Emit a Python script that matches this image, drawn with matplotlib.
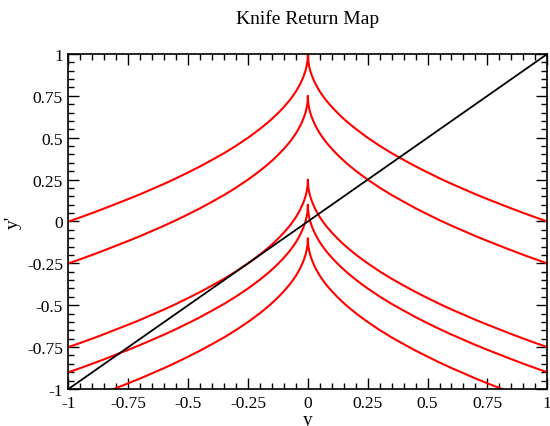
import numpy as np
import matplotlib
matplotlib.use("Agg")
import matplotlib.pyplot as plt
from matplotlib.ticker import MultipleLocator, FixedLocator

plt.rcParams["font.family"] = ["Liberation Serif", "DejaVu Serif"]
plt.rcParams["axes.unicode_minus"] = False

# |y| sample positions (dense near the cusp) and the drop below each branch's peak
abs_y = [0.0, 0.001, 0.002, 0.004, 0.006, 0.01, 0.015, 0.02, 0.03, 0.04, 0.05, 0.06,
         0.07, 0.08, 0.1, 0.12, 0.14, 0.16, 0.18, 0.2, 0.225, 0.25, 0.275, 0.3, 0.35,
         0.4, 0.45, 0.5, 0.55, 0.6, 0.65, 0.7, 0.75, 0.8, 0.85, 0.9, 0.95, 1.0]
drop = [0.0, 0.032, 0.045, 0.063, 0.077, 0.1, 0.122, 0.141, 0.173, 0.2, 0.224, 0.245,
        0.265, 0.283, 0.316, 0.346, 0.374, 0.4, 0.424, 0.447, 0.474, 0.5, 0.524, 0.548,
        0.592, 0.632, 0.671, 0.707, 0.742, 0.775, 0.806, 0.837, 0.866, 0.894, 0.922,
        0.949, 0.975, 1.0]

# peak value y'(0) of each return-map branch
peaks = [1.0, 0.75, 0.25, 0.1, -0.1]

# identity line y' = y
diag_y = [-1.0, 1.0]

tick_vals = [-1, -0.75, -0.5, -0.25, 0, 0.25, 0.5, 0.75, 1]
tick_labels = ["-1", "-0.75", "-0.5", "-0.25", "0", "0.25", "0.5", "0.75", "1"]

fig = plt.figure(figsize=(5.5, 4.27), dpi=100)
ax = fig.add_axes([0.1245, 0.0867, 0.8705, 0.7845])

a = np.asarray(abs_y)
d = np.asarray(drop)
xs = np.concatenate([-a[::-1], a[1:]])
ds = np.concatenate([d[::-1], d[1:]])
for p in peaks:
    ax.plot(xs, p - ds, color="#ff0000", lw=1.5, solid_joinstyle="round")

ax.plot(diag_y, diag_y, color="black", lw=1.3)

ax.set_xlim(-1, 1)
ax.set_ylim(-1, 1)
ax.xaxis.set_major_locator(FixedLocator(tick_vals))
ax.yaxis.set_major_locator(FixedLocator(tick_vals))
ax.set_xticklabels(tick_labels)
ax.set_yticklabels(tick_labels)
ax.xaxis.set_minor_locator(MultipleLocator(0.05))
ax.yaxis.set_minor_locator(MultipleLocator(0.05))
ax.tick_params(which="both", direction="in", top=True, right=True, width=1.0,
               labelsize=12.5, pad=4)
ax.tick_params(which="major", length=8)
ax.tick_params(which="minor", length=4.5)
for s in ax.spines.values():
    s.set_linewidth(1.2)

ax.set_title("Knife Return Map", fontsize=14, pad=22)
ax.set_xlabel("y", fontsize=14, labelpad=0)
ax.set_ylabel("y'", fontsize=14, labelpad=4)

fig.savefig("out.png", dpi=100)
